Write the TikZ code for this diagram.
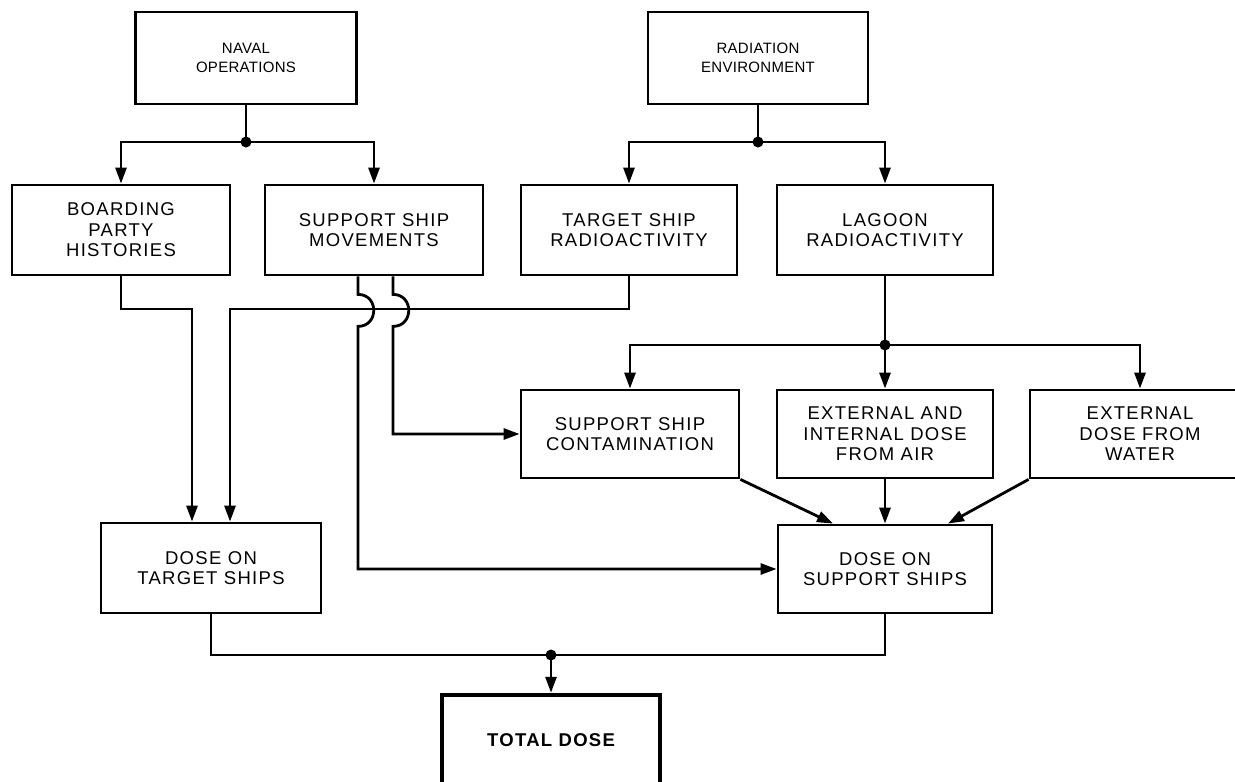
\documentclass[tikz,border=0pt]{standalone}
\usepackage{fontspec}
\setmainfont{Liberation Sans}
\newfontfamily\lblfont[LetterSpace=7]{Liberation Sans}
\newfontfamily\topfont[LetterSpace=2]{Liberation Sans}
\usetikzlibrary{arrows.meta}
\begin{document}
\begin{tikzpicture}[x=1pt,y=-1pt,
  box/.style={draw, line width=2.8pt, align=center, inner sep=0pt,
    font=\lblfont\fontsize{18.5}{20.5}\selectfont},
  topbox/.style={box, font=\topfont\fontsize{15}{18.5}\selectfont},
  conn/.style={line width=2.8pt},
  arr/.style={conn, -{Triangle[length=16pt,width=11pt]}},
  junction/.style={circle, fill=black, inner sep=0pt, minimum size=11pt}]
\fill[white] (0,0) rectangle (1235,782);
\useasboundingbox (0,0) rectangle (1235,782);
% boxes
\node[topbox, minimum width=221pt, minimum height=92pt] (nav) at (246,58) {NAVAL\\OPERATIONS};
\node[topbox, minimum width=220pt, minimum height=92pt] (rad) at (758,58) {RADIATION\\ENVIRONMENT};
\node[box, minimum width=218pt, minimum height=90pt] (board) at (121,230) {BOARDING\\PARTY\\HISTORIES};
\node[box, minimum width=218pt, minimum height=90pt] (ssm) at (374,230) {SUPPORT SHIP\\MOVEMENTS};
\node[box, minimum width=216pt, minimum height=90pt] (tsr) at (629,230) {TARGET SHIP\\RADIOACTIVITY};
\node[box, minimum width=216pt, minimum height=90pt] (lag) at (885,230) {LAGOON\\RADIOACTIVITY};
\node[box, minimum width=218pt, minimum height=88pt] (ssc) at (630,434) {SUPPORT SHIP\\CONTAMINATION};
\node[box, minimum width=216pt, minimum height=88pt] (air) at (885,434) {EXTERNAL AND\\INTERNAL DOSE\\FROM AIR};
\node[box, minimum width=220pt, minimum height=88pt] (water) at (1140,434) {EXTERNAL\\DOSE FROM\\WATER};
\node[box, minimum width=220pt, minimum height=90pt] (dts) at (211,568) {DOSE ON\\TARGET SHIPS};
\node[box, minimum width=214pt, minimum height=88pt] (dss) at (885,569) {DOSE ON\\SUPPORT SHIPS};
\node[box, line width=4.5pt, minimum width=218pt, minimum height=90pt,
  font=\lblfont\bfseries\fontsize{18.5}{20.5}\selectfont] (total) at (551,740) {TOTAL DOSE};
% helper rows
\coordinate (hline) at (0,309);
\coordinate (rowa) at (0,142);
\coordinate (rowc) at (0,345);
% junctions
\node[junction] (j1) at (nav.south |- rowa) {};
\node[junction] (j2) at (rad.south |- rowa) {};
\node[junction] (j3) at (lag.south |- rowc) {};
\node[junction] (j4) at (551,655) {};
% top fan-outs
\draw[conn] (nav.south) -- (j1.center);
\draw[arr] (j1.center) -| (board.north);
\draw[arr] (j1.center) -| (ssm.north);
\draw[conn] (rad.south) -- (j2.center);
\draw[arr] (j2.center) -| (tsr.north);
\draw[arr] (j2.center) -| (lag.north);
% to dose on target ships
\coordinate (dtsL) at ([xshift=-19pt]dts.north);
\coordinate (dtsR) at ([xshift=19pt]dts.north);
\draw[arr] (board.south) -- (board.south |- hline) -| (dtsL);
\draw[arr] (tsr.south) -- (tsr.south |- hline) -| (dtsR);
% support ship movements outputs with jumps
\coordinate (s1) at ([xshift=-16pt]ssm.south);
\coordinate (s2) at ([xshift=19pt]ssm.south);
\draw[arr] (s1) -- ++(0,18) .. controls +(21,0) and +(21,0) .. ++(0,32) |- (dss.west);
\draw[arr] (s2) -- ++(0,18) .. controls +(21,0) and +(21,0) .. ++(0,32) |- (ssc.west);
% lagoon fan-out
\draw[conn] (lag.south) -- (j3.center);
\draw[arr] (j3.center) -| (ssc.north);
\draw[arr] (j3.center) -- (air.north);
\draw[arr] (j3.center) -| (water.north);
% into dose on support ships
\draw[arr] (ssc.south east) -- ([xshift=-52pt]dss.north);
\draw[arr] (air.south) -- (dss.north);
\draw[arr] (water.south west) -- ([xshift=63pt]dss.north);
% total
\draw[conn] (dts.south) |- (j4.center);
\draw[conn] (dss.south) |- (j4.center);
\draw[arr] (j4.center) -- (total.north);
\end{tikzpicture}
\end{document}
